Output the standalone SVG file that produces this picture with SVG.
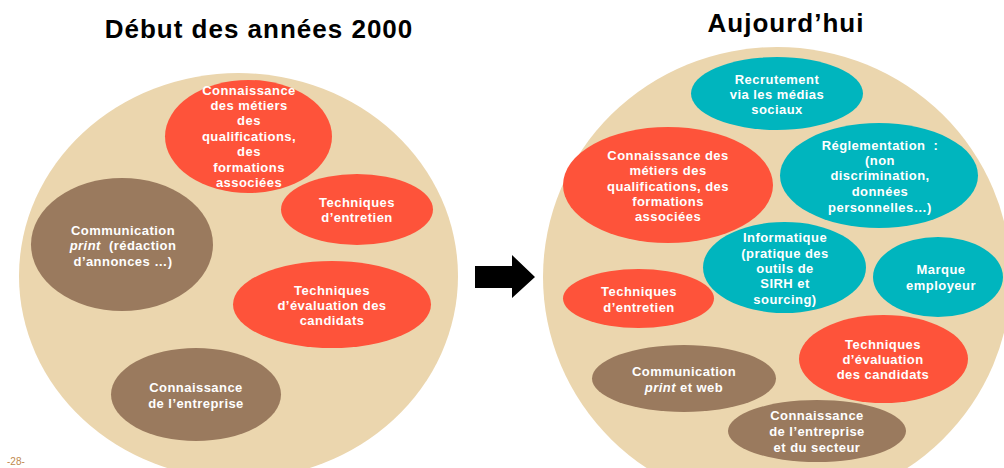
<svg xmlns="http://www.w3.org/2000/svg" width="1004" height="468" viewBox="0 0 1004 468">
<style>
.bg{fill:#EBD6AE}
.red{fill:#FE533A}
.teal{fill:#00B5BE}
.brown{fill:#9A7A5E}
.t{font-family:"Liberation Sans",Arial,sans-serif;font-weight:bold;font-size:13px;fill:#FFFFFF;text-anchor:middle;letter-spacing:0.45px}
.title{font-family:"Liberation Sans",Arial,sans-serif;font-weight:bold;font-size:26px;fill:#000000;text-anchor:middle;letter-spacing:1px}
.pg{font-family:"Liberation Sans",Arial,sans-serif;font-size:10px;fill:#C0884E}
</style>
<rect width="1004" height="468" fill="#FFFFFF"/>
<text class="title" x="259" y="38">Début des années 2000</text>
<text class="title" x="786" y="32">Aujourd’hui</text>
<g id="left-circle"><ellipse class="bg" cx="238.5" cy="276" rx="219.5" ry="203"/></g>
<g id="right-circle"><ellipse class="bg" cx="777" cy="277" rx="234" ry="230"/></g>

<g id="l-connaissance-metiers">
<ellipse class="red" cx="248.5" cy="136.5" rx="83.5" ry="56.5"/>
<text class="t" x="249"><tspan x="249" y="95">Connaissance</tspan><tspan x="249" y="110">des métiers</tspan><tspan x="249" y="125">des</tspan><tspan x="249" y="141">qualifications,</tspan><tspan x="249" y="156">des</tspan><tspan x="249" y="172">formations</tspan><tspan x="249" y="187">associées</tspan></text>
</g>
<g id="l-techniques-entretien">
<ellipse class="red" cx="357" cy="209.5" rx="76" ry="35.5"/>
<text class="t"><tspan x="357" y="207">Techniques</tspan><tspan x="357" y="222">d’entretien</tspan></text>
</g>
<g id="l-communication">
<ellipse class="brown" cx="122" cy="244.5" rx="91" ry="66.5"/>
<text class="t"><tspan x="123" y="235">Communication</tspan></text>
<text class="t" x="123" y="250" xml:space="preserve"><tspan font-style="italic">print</tspan>  (rédaction</text>
<text class="t"><tspan x="123" y="266">d’annonces …)</tspan></text>
</g>
<g id="l-techniques-evaluation">
<ellipse class="red" cx="332" cy="304.5" rx="99" ry="43.5"/>
<text class="t"><tspan x="332" y="295">Techniques</tspan><tspan x="332" y="310">d’évaluation des</tspan><tspan x="332" y="325">candidats</tspan></text>
</g>
<g id="l-connaissance-entreprise">
<ellipse class="brown" cx="196" cy="394.5" rx="85" ry="46.5"/>
<text class="t"><tspan x="196" y="392">Connaissance</tspan><tspan x="196" y="408">de l’entreprise</tspan></text>
</g>

<g id="connectors">
<polygon fill="#000000" points="475,266 512,266 512,255 535,277 512,298 512,288 475,288"/>
</g>

<g id="r-recrutement">
<ellipse class="teal" cx="777" cy="93.5" rx="86" ry="36.5"/>
<text class="t"><tspan x="777" y="84">Recrutement</tspan><tspan x="777" y="99">via les médias</tspan><tspan x="777" y="114">sociaux</tspan></text>
</g>
<g id="r-connaissance-metiers">
<ellipse class="red" cx="668" cy="185" rx="105" ry="58"/>
<text class="t"><tspan x="668" y="160">Connaissance des</tspan><tspan x="668" y="175">métiers des</tspan><tspan x="668" y="191">qualifications, des</tspan><tspan x="668" y="206">formations</tspan><tspan x="668" y="221">associées</tspan></text>
</g>
<g id="r-reglementation">
<ellipse class="teal" cx="879" cy="175.5" rx="99" ry="52.5"/>
<text class="t" x="880" y="150" xml:space="preserve">Réglementation  :</text>
<text class="t"><tspan x="880" y="165">(non</tspan><tspan x="880" y="180">discrimination,</tspan><tspan x="880" y="196">données</tspan><tspan x="880" y="212">personnelles…)</tspan></text>
</g>
<g id="r-informatique">
<ellipse class="teal" cx="784.5" cy="267.5" rx="81.5" ry="45.5"/>
<text class="t"><tspan x="785" y="242">Informatique</tspan><tspan x="785" y="258">(pratique des</tspan><tspan x="785" y="273">outils de</tspan><tspan x="785" y="288">SIRH et</tspan><tspan x="785" y="304">sourcing)</tspan></text>
</g>
<g id="r-marque">
<ellipse class="teal" cx="938" cy="277" rx="65" ry="40"/>
<text class="t"><tspan x="941" y="274">Marque</tspan><tspan x="941" y="290">employeur</tspan></text>
</g>
<g id="r-techniques-entretien">
<ellipse class="red" cx="638.5" cy="298.5" rx="75.5" ry="29.5"/>
<text class="t"><tspan x="639" y="296">Techniques</tspan><tspan x="639" y="312">d’entretien</tspan></text>
</g>
<g id="r-techniques-evaluation">
<ellipse class="red" cx="883.5" cy="359" rx="84.5" ry="44"/>
<text class="t"><tspan x="883" y="349">Techniques</tspan><tspan x="883" y="364">d’évaluation</tspan><tspan x="883" y="379">des candidats</tspan></text>
</g>
<g id="r-communication">
<ellipse class="brown" cx="684" cy="378.5" rx="92" ry="33.5"/>
<text class="t"><tspan x="684" y="376">Communication</tspan><tspan x="684" y="392"><tspan font-style="italic">print</tspan> et web</tspan></text>
</g>
<g id="r-connaissance-entreprise">
<ellipse class="brown" cx="817" cy="431" rx="89" ry="31"/>
<text class="t"><tspan x="817" y="420">Connaissance</tspan><tspan x="817" y="436">de l’entreprise</tspan><tspan x="817" y="452">et du secteur</tspan></text>
</g>
<text class="pg" x="7" y="465">-28-</text>
</svg>
